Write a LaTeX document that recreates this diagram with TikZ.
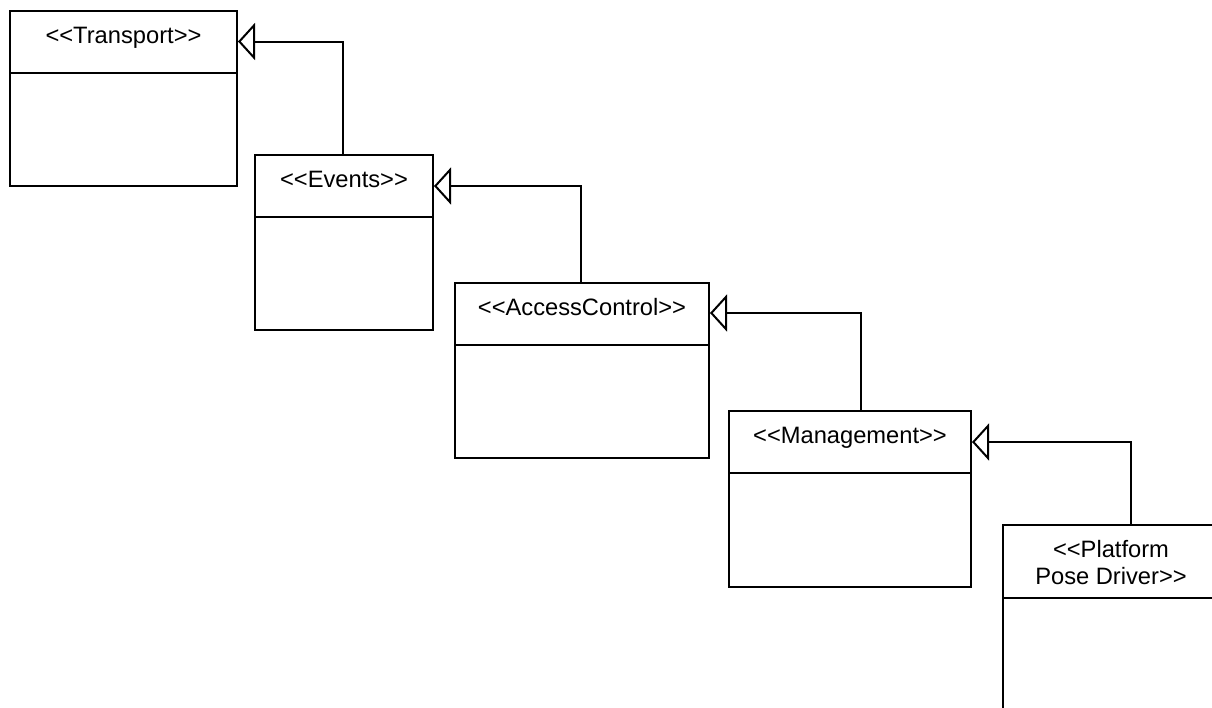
\documentclass[tikz,border=0pt]{standalone}
\usepackage{fontspec}
\setmainfont{Liberation Sans}
\usetikzlibrary{arrows.meta}
\newcommand{\lt}{<\kern0pt<}
\newcommand{\gt}{>\kern0pt>}
\begin{document}
\begin{tikzpicture}[x=1pt,y=-1pt,
  cls/.style={draw, line width=2pt, rectangle, inner sep=0pt, anchor=north west},
  lbl/.style={anchor=base, inner sep=0pt, align=center, font=\fontsize{23.7}{27.6}\selectfont},
  gen/.style={line width=2pt, -{Triangle[open, length=17pt, width=37pt, fill=white]}}]
\useasboundingbox (0,0) rectangle (1212,707);
\clip (0,0) rectangle (1212,707);
% classes
\node[cls, minimum width=227pt, minimum height=175pt] (transport) at (9,10) {};
\node[cls, minimum width=178pt, minimum height=175pt] (events) at (254,154) {};
\node[cls, minimum width=254pt, minimum height=175pt] (access) at (454,282) {};
\node[cls, minimum width=242pt, minimum height=176pt] (mgmt) at (728,410) {};
\node[cls, minimum width=216pt, minimum height=220pt] (platform) at (1002,524) {};
% dividers
\draw[line width=2pt] ([yshift=-63pt]transport.north west) -- ([yshift=-63pt]transport.north east);
\draw[line width=2pt] ([yshift=-63pt]events.north west) -- ([yshift=-63pt]events.north east);
\draw[line width=2pt] ([yshift=-63pt]access.north west) -- ([yshift=-63pt]access.north east);
\draw[line width=2pt] ([yshift=-63pt]mgmt.north west) -- ([yshift=-63pt]mgmt.north east);
\draw[line width=2pt] ([yshift=-74pt]platform.north west) -- ([yshift=-74pt]platform.north east);
% titles
\node[lbl] (transportT) at ([yshift=-33pt]transport.north) {\lt Transport\gt};
\node[lbl] (eventsT) at ([yshift=-33pt]events.north) {\lt Events\gt};
\node[lbl] (accessT) at ([yshift=-33pt]access.north) {\lt AccessControl\gt};
\node[lbl] (mgmtT) at ([yshift=-33pt]mgmt.north) {\lt Management\gt};
\node[lbl] (platformT) at ([yshift=-60.6pt]platform.north) {\lt Platform\\Pose Driver\gt};
% generalizations
\draw[gen] ([xshift=89pt]events.north west) |- ([yshift=-31.5pt]transport.north east);
\draw[gen] ([xshift=127pt]access.north west) |- ([yshift=-32pt]events.north east);
\draw[gen] ([xshift=133pt]mgmt.north west) |- ([yshift=-31pt]access.north east);
\draw[gen] ([xshift=129pt]platform.north west) |- ([yshift=-32pt]mgmt.north east);
\end{tikzpicture}
\end{document}
